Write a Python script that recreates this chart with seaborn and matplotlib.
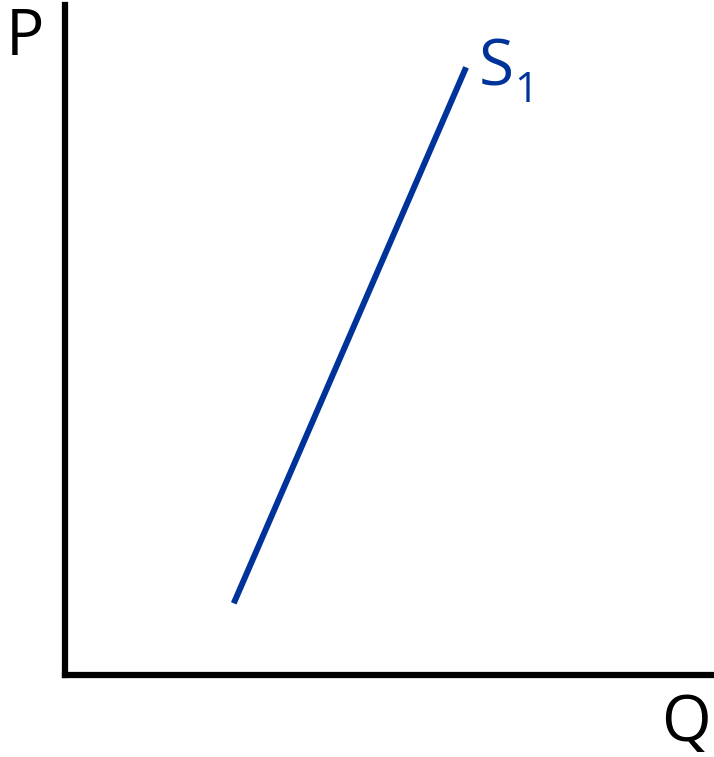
import matplotlib
matplotlib.use("Agg")
import matplotlib.pyplot as plt
import seaborn as sns
import pandas as pd

# Data
quantity = [2.60, 6.18]
price = [1.07, 9.07]
curve_label = "S"
curve_sub = "1"
x_label = "Q"
y_label = "P"

sns.set_theme(style="white")
plt.rcParams['font.family'] = ['Open Sans', 'DejaVu Sans']

W, H = 714, 757
fig = plt.figure(figsize=(W / 100, H / 100), dpi=100)
ax = fig.add_axes([65 / W, 1 - 675 / H, 1 - 65 / W, (675 - 5) / H])

df = pd.DataFrame({"Q": quantity, "P": price})
sns.lineplot(data=df, x="Q", y="P", ax=ax, color="#003399", linewidth=4.3,
             solid_capstyle="butt")

ax.set_xlim(0, 10)
ax.set_ylim(0, 10)
ax.set_xticks([])
ax.set_yticks([])
ax.set_xlabel("")
ax.set_ylabel("")
for s in ["top", "right"]:
    ax.spines[s].set_visible(False)
for s in ["left", "bottom"]:
    ax.spines[s].set_color("black")
    ax.spines[s].set_linewidth(4.5)
    ax.spines[s].set_capstyle("projecting")

blue = "#003399"
fig.text(479 / W, 1 - 86 / H, curve_label, fontsize=46, color=blue, ha="left", va="baseline")
fig.text(514 / W, 1 - 102 / H, curve_sub, fontsize=30, color=blue, ha="left", va="baseline")
fig.text(6 / W, 1 - 55 / H, y_label, fontsize=46, color="black", ha="left", va="baseline")
fig.text(661 / W, 1 - 741 / H, x_label, fontsize=46, color="black", ha="left", va="baseline")

fig.savefig("out.png", dpi=100)
